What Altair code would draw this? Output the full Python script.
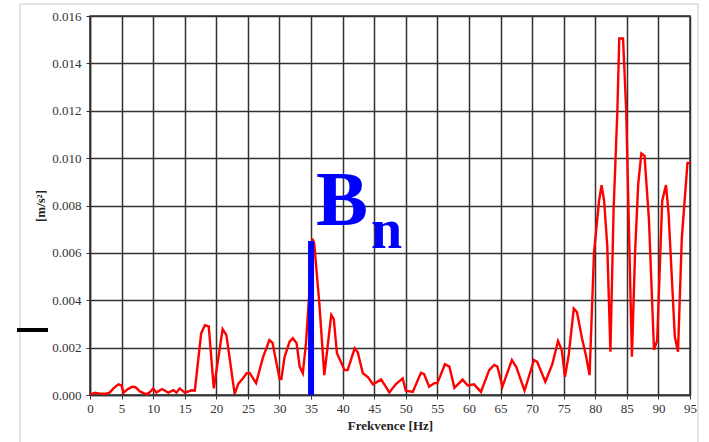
import altair as alt
import pandas as pd

# Acceleration spectrum: frequency [Hz] and amplitude [m/s^2]
freq = [0, 0.8, 1.5, 2.4, 3.1, 3.8, 4.5, 5.0, 5.3, 6.0, 6.7, 7.2, 7.9, 8.9, 9.5,
        10.0, 10.5, 11.4, 12.4, 13.2, 13.7, 14.2, 15.0, 16.1, 16.6, 17.6, 18.2,
        18.8, 19.6, 21.0, 21.6, 22.9, 23.5, 24.2, 24.8, 25.3, 26.3, 27.4, 28.4,
        28.9, 30.0, 30.3, 30.8, 31.6, 32.1, 32.7, 33.2, 33.7, 34.2, 34.8, 35.2,
        35.5, 36.3, 37.1, 38.2, 38.6, 39.1, 40.3, 40.8, 41.9, 42.4, 43.2, 44.0,
        44.8, 46.1, 47.4, 48.4, 49.5, 50.0, 51.1, 52.4, 52.9, 53.7, 54.5, 55.0,
        56.2, 56.9, 57.7, 59.0, 59.8, 60.8, 61.9, 63.2, 64.0, 64.5, 65.3, 66.8,
        67.5, 68.8, 70.3, 70.8, 72.1, 73.2, 74.1, 74.7, 75.2, 75.8, 76.6, 77.1,
        77.9, 78.5, 79.1, 79.8, 80.6, 81.0, 81.4, 81.9, 82.4, 82.9, 83.5, 83.8,
        84.4, 84.9, 85.3, 85.8, 86.3, 86.8, 87.3, 87.8, 88.5, 89.3, 89.8, 90.6,
        91.2, 91.6, 92.6, 93.1, 93.7, 94.6, 95.0]
accel = [0.00002, 0.0001, 0.00006, 0.00005, 0.0001, 0.0003, 0.00045, 0.0004,
         0.0001, 0.00025, 0.00035, 0.00033, 0.00015, 0.00003, 0.00012, 0.00028,
         0.0001, 0.00025, 0.0001, 0.0002, 0.0001, 0.00028, 0.0001, 0.0002,
         0.00018, 0.0026, 0.00295, 0.0029, 0.00028, 0.00278, 0.00253, 0.00005,
         0.00048, 0.0007, 0.00092, 0.00092, 0.0005, 0.0016, 0.00232, 0.0022,
         0.0007, 0.00068, 0.0016, 0.00225, 0.0024, 0.0022, 0.0012, 0.00092,
         0.0022, 0.0046, 0.0066, 0.0064, 0.0039, 0.00084, 0.00338, 0.0032,
         0.00176, 0.00105, 0.00105, 0.00197, 0.0018, 0.00092, 0.00076, 0.00045,
         0.00066, 0.00011, 0.00045, 0.0007, 0.00018, 0.00013, 0.00094, 0.00088,
         0.00035, 0.0005, 0.0005, 0.0013, 0.0012, 0.0003, 0.00065, 0.0004,
         0.00045, 0.00013, 0.00105, 0.00127, 0.0012, 0.00035, 0.00148, 0.00118,
         0.00018, 0.00148, 0.0014, 0.00056, 0.0013, 0.00228, 0.0019, 0.00077,
         0.0017, 0.00365, 0.0035, 0.0024, 0.0017, 0.00084, 0.006, 0.0082,
         0.00886, 0.0082, 0.0063, 0.00183, 0.0078, 0.012, 0.01505, 0.01505,
         0.012, 0.0074, 0.00162, 0.006, 0.0089, 0.0102, 0.0101, 0.0074, 0.0019,
         0.0023, 0.0082, 0.00886, 0.0077, 0.00246, 0.00183, 0.0066, 0.0098,
         0.0098]

# Marker for the B_n component
marker_freq = [35]
marker_amp = [0.0065]

x_ticks = list(range(0, 96, 5))
y_ticks = [0.000, 0.002, 0.004, 0.006, 0.008, 0.010, 0.012, 0.014, 0.016]

SERIF = "Liberation Serif"

spectrum = pd.DataFrame({"f": freq, "a": accel})
marker = pd.DataFrame({"f": marker_freq, "a": marker_amp, "a0": [0.0]})
one = alt.Data(values=[{}])

x_scale = alt.Scale(domain=[0, 95], nice=False, zero=False)
y_scale = alt.Scale(domain=[0, 0.016], nice=False)
x_axis = alt.Axis(values=x_ticks, title="Frekvence [Hz]", format="d",
                  labelOverlap=False, labelFlush=False, labelFont=SERIF)
y_axis = alt.Axis(values=y_ticks, title="[m/s²]", format=".3f",
                  labelOverlap=False, labelFlush=False, labelFont=SERIF)

line = alt.Chart(spectrum).mark_line(
    color="#ff0000", strokeWidth=2.4, interpolate="linear"
).encode(
    x=alt.X("f:Q", scale=x_scale, axis=x_axis),
    y=alt.Y("a:Q", scale=y_scale, axis=y_axis),
)

bar = alt.Chart(marker).mark_rule(color="#0000ff", strokeWidth=6).encode(
    x=alt.X("f:Q", scale=x_scale, axis=x_axis),
    y=alt.Y("a:Q", scale=y_scale, axis=y_axis),
    y2="a0:Q",
)

big_b = alt.Chart(one).mark_text(
    text="B", font=SERIF, fontWeight="bold", fontSize=78, color="#0000ff",
    align="left", baseline="alphabetic"
).encode(x=alt.value(226), y=alt.value(209))

sub_n = alt.Chart(one).mark_text(
    text="n", font=SERIF, fontWeight="bold", fontSize=56, color="#0000ff",
    align="left", baseline="alphabetic"
).encode(x=alt.value(281), y=alt.value(232))

# light outer frame around the figure
frame_top = alt.Chart(one).mark_rule(color="#c8c8c8", strokeWidth=1).encode(
    x=alt.value(-70), x2=alt.value(608), y=alt.value(-12)
)
frame_left = alt.Chart(one).mark_rule(color="#c8c8c8", strokeWidth=1).encode(
    x=alt.value(-70), y=alt.value(-12), y2=alt.value(440)
)
frame_right = alt.Chart(one).mark_rule(color="#c8c8c8", strokeWidth=1).encode(
    x=alt.value(608), y=alt.value(-12), y2=alt.value(440)
)
dash = alt.Chart(one).mark_rule(color="#000000", strokeWidth=4).encode(
    x=alt.value(-73), x2=alt.value(-42), y=alt.value(314)
)

chart = alt.layer(
    frame_top, frame_left, frame_right, dash, line, bar, big_b, sub_n
).properties(
    width=600,
    height=379,
    autosize=alt.AutoSizeParams(type="none"),
    padding={"left": 90, "top": 16, "right": 19, "bottom": 47},
).configure(
    font=SERIF
).configure_view(
    stroke="#333333", strokeWidth=1.5
).configure_axis(
    grid=True,
    gridColor="#333333",
    gridWidth=1.5,
    gridOpacity=1,
    domainColor="#333333",
    domainWidth=1.5,
    tickColor="#333333",
    tickSize=4,
    labelFont=SERIF,
    labelFontSize=13,
    labelColor="#333333",
    titleFont=SERIF,
    titleFontSize=13,
    titleFontWeight="bold",
    titleColor="#222222",
).configure_axisX(
    labelPadding=3, titlePadding=4
).configure_axisY(
    labelPadding=5, titlePadding=4
)

chart.save("out.html", embed_options={"renderer": "svg", "actions": False})
